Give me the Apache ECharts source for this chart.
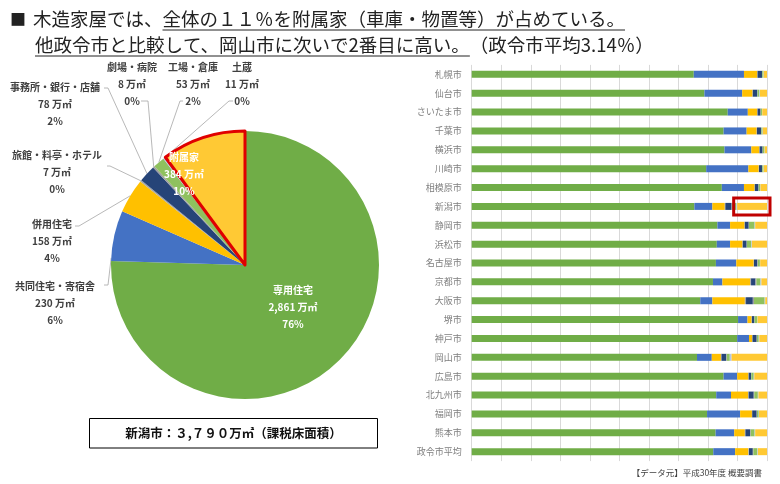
<!DOCTYPE html>
<html><head><meta charset="utf-8">
<script src="https://cdn.jsdelivr.net/npm/echarts@6/dist/echarts.min.js"></script>
<style>html,body{margin:0;padding:0;background:#fff}#c{width:780px;height:484px}</style>
</head><body><div id="c"></div>
<script>
// ---- data ----
const pieNames = ['専用住宅','共同住宅・寄宿舎','併用住宅','旅館・料亭・ホテル','事務所・銀行・店舗','劇場・病院','工場・倉庫','土蔵','附属家'];
const pieValues = [2861, 230, 158, 7, 78, 8, 53, 11, 384];
const piePercents = [76, 6, 4, 0, 2, 0, 2, 0, 10];

const cities = ['札幌市','仙台市','さいたま市','千葉市','横浜市','川崎市','相模原市','新潟市','静岡市','浜松市','名古屋市','京都市','大阪市','堺市','神戸市','岡山市','広島市','北九州市','福岡市','熊本市','政令市平均'];
const senyo    = [75.2,78.8,86.7,85.3,85.6,79.4,84.7,75.4,83.2,83.0,82.7,81.7,77.4,90.2,89.9,76.3,85.3,82.8,79.7,82.6,81.8];
const kyodo    = [17.0,12.8, 6.8, 7.8, 9.1,14.3, 7.5, 6.1, 4.3, 4.5, 6.9, 3.2, 4.1, 3.2, 4.0, 5.0, 4.6, 5.0,11.2, 6.3, 7.4];
const heiyo    = [ 4.5, 3.5, 3.2, 3.4, 2.7, 3.5, 3.6, 4.2, 4.9, 4.2, 5.9, 9.4,11.0, 1.4, 1.1, 3.1, 3.8, 5.8, 4.0, 3.6, 4.5];
const ryokan   = [ 0.1, 0.1, 0.1, 0.1, 0.1, 0.1, 0.1, 0.2, 0.1, 0.1, 0.1, 0.3, 0.4, 0.1, 0.1, 0.2, 0.1, 0.2, 0.1, 0.2, 0.2];
const jimusho  = [ 1.5, 1.5, 1.0, 1.4, 1.0, 1.0, 1.2, 2.1, 1.3, 1.3, 1.1, 1.5, 2.3, 0.8, 1.4, 1.6, 0.8, 1.7, 1.5, 1.6, 1.3];
const gekijo   = [ 0.1, 0.1, 0.1, 0.1, 0.1, 0.1, 0.1, 0.2, 0.1, 0.1, 0.2, 0.3, 0.4, 0.1, 0.1, 0.2, 0.1, 0.2, 0.1, 0.2, 0.2];
const kojo     = [ 0.4, 0.6, 0.4, 0.4, 0.5, 0.4, 0.5, 1.4, 1.9, 1.5, 0.7, 1.4, 3.6, 0.9, 0.6, 1.0, 0.8, 1.2, 0.6, 1.3, 1.3];
const dozo     = [ 0.1, 0.2, 0.1, 0.1, 0.1, 0.1, 0.1, 0.3, 0.2, 0.2, 0.1, 0.3, 0.2, 0.1, 0.2, 0.6, 0.2, 0.2, 0.1, 0.2, 0.2];
const fuzokuka = [ 1.1, 2.4, 1.6, 1.4, 0.8, 1.1, 2.2,10.1, 4.0, 5.1, 2.3, 1.9, 0.6, 3.2, 2.6,12.0, 4.3, 2.9, 2.7, 4.0, 3.1];
const barSeriesData = [senyo, kyodo, heiyo, ryokan, jimusho, gekijo, kojo, dozo, fuzokuka];

const titleLine1 = ['■', '木造家屋では、', '全体の１１％を附属家（車庫・物置等）が占めている。'];
const titleLine2 = ['他政令市と比較して、岡山市に次いで2番目に高い。', '（政令市平均3.14％）'];
const boxText = '新潟市：３,７９０万㎡（課税床面積）';
const sourceText = '【データ元】平成30年度 概要調書';
const highlightCity = '新潟市';

// ---- styles / layout ----
const colors = ['#70AD47','#4472C4','#FFC000','#A5A5A5','#264478','#9E9E9E','#8FC15E','#B4C7E7','#FFC934'];
const FF = "'Noto Sans CJK JP', sans-serif";
const PIE_C = [245, 265], PIE_R = 134;
const labelPos = {
  '専用住宅': {x:293, y:307},
  '共同住宅・寄宿舎': {x:55, y:303, end:[104,285], elbow:[108,285], frac:0.06},
  '併用住宅': {x:52, y:241, end:[75,226], elbow:[79,226], frac:0.5},
  '旅館・料亭・ホテル': {x:57, y:172, end:[107,166], elbow:[110,166], frac:0.5},
  '事務所・銀行・店舗': {x:55, y:104, end:[104,88], elbow:[108,88], frac:0.5},
  '劇場・病院': {x:132, y:84, end:[141,101], elbow:[148,101], frac:0.5},
  '工場・倉庫': {x:193, y:84, end:[183,101], elbow:[180,101], frac:0.5},
  '土蔵': {x:242, y:84, end:[233,101], elbow:[229,101], frac:0.5},
  '附属家': {x:184, y:174}
};
const insideNames = ['専用住宅','附属家'];

const total = pieValues.reduce((a,b)=>a+b,0);
function anchor(i, frac){
  let cum = 0; for (let k=0;k<i;k++) cum += pieValues[k];
  const deg = 360*(cum + frac*pieValues[i])/total * Math.PI/180;
  return [PIE_C[0] + PIE_R*Math.sin(deg), PIE_C[1] - PIE_R*Math.cos(deg)];
}

const mctx = document.createElement('canvas').getContext('2d');
function tw(t, font){ mctx.font = font; return mctx.measureText(t).width; }

const chart = echarts.init(document.getElementById('c'), null, {renderer:'canvas'});

const pieData = pieNames.map((n,i)=>{
  const inside = insideNames.indexOf(n) >= 0;
  const d = {name:n, value:pieValues[i], itemStyle:{color:colors[i]}};
  if (n === '附属家') { d.itemStyle.borderColor = '#E00000'; d.itemStyle.borderWidth = 3; }
  d.label = inside ? {position:'inside', color:'#FFFFFF'} : {position:'outside', color:'#404040'};
  d.labelLine = {show: !inside};
  return d;
});

// title graphics
const TF = "18.5px " + FF;
const g = [];
let x = 10;
g.push({type:'text', x:0, y:0, style:{text:titleLine1[0], x:10, y:19, font:"16px "+FF, fill:'#222', verticalAlign:'middle', textVerticalAlign:'middle'}});
x = 33;
g.push({type:'text', style:{text:titleLine1[1], x:x, y:19, font:TF, fill:'#222', verticalAlign:'middle', textVerticalAlign:'middle'}});
x += tw(titleLine1[1], TF);
const w13 = tw(titleLine1[2], TF);
g.push({type:'text', style:{text:titleLine1[2], x:x, y:19, font:TF, fill:'#222', verticalAlign:'middle', textVerticalAlign:'middle'}});
g.push({type:'line', shape:{x1:x, y1:30, x2:x+w13, y2:30}, style:{stroke:'#222', lineWidth:1}});
x = 35;
const w21 = tw(titleLine2[0], TF);
g.push({type:'text', style:{text:titleLine2[0], x:x, y:45, font:TF, fill:'#222', verticalAlign:'middle', textVerticalAlign:'middle'}});
g.push({type:'line', shape:{x1:x, y1:56, x2:x+w21, y2:56}, style:{stroke:'#222', lineWidth:1}});
g.push({type:'text', style:{text:titleLine2[1], x:x+w21, y:45, font:TF, fill:'#222', verticalAlign:'middle', textVerticalAlign:'middle'}});
// box
g.push({type:'rect', shape:{x:89.5, y:418.5, width:288, height:29.5}, style:{fill:'#fff', stroke:'#000', lineWidth:1}});
g.push({type:'text', style:{text:boxText, x:233.5, y:433.5, font:"bold 12.5px "+FF, fill:'#111', align:'center', textAlign:'center', verticalAlign:'middle', textVerticalAlign:'middle'}});
// source
g.push({type:'text', style:{text:sourceText, x:762, y:473, font:"8.5px "+FF, fill:'#404040', align:'right', textAlign:'right', verticalAlign:'middle', textVerticalAlign:'middle'}});

const option = {
  animation:false,
  backgroundColor:'#fff',
  textStyle:{fontFamily:FF},
  grid:{left:471.7, top:64.9, width:295.3, height:396.2, containLabel:false},
  xAxis:{type:'value', min:0, max:100, interval:10, axisLabel:{show:false}, axisLine:{show:false}, axisTick:{show:false},
    splitLine:{show:true, lineStyle:{color:'#D9D9D9', width:1}}},
  yAxis:{type:'category', data:cities, inverse:true, axisLine:{show:false}, axisTick:{show:false},
    axisLabel:{color:'#7F7F7F', fontSize:9, margin:10, fontFamily:FF}},
  series: barSeriesData.map((arr,i)=>({
    type:'bar', name:pieNames[i], stack:'total', data:arr, barWidth:7,
    itemStyle:{color:colors[i]}, silent:true, emphasis:{disabled:true}
  })).concat([{
    type:'pie', center:PIE_C, radius:PIE_R, startAngle:90, clockwise:true, avoidLabelOverlap:false,
    silent:true, emphasis:{disabled:true},
    data:pieData,
    label:{show:true, overflow:'none', fontSize:10, fontWeight:'bold', fontFamily:FF, lineHeight:17,
      formatter:p=>p.name + '\n' + p.value.toLocaleString('en-US') + ' 万㎡\n' + piePercents[p.dataIndex] + '%'},
    labelLine:{show:true, length:10, length2:10, lineStyle:{color:'#A6A6A6', width:0.8}},
    labelLayout:function(p){
      const L = labelPos[pieNames[p.dataIndex]];
      const r = {x:L.x, y:L.y, align:'center', verticalAlign:'middle'};
      if (L.end) r.labelLinePoints = [anchor(p.dataIndex, L.frac), L.elbow, L.end];
      return r;
    }
  }]),
  graphic: g
};
chart.setOption(option);

// highlight box around the 附属家 segment of the highlighted city
const hi = cities.indexOf(highlightCity);
let base = 0; for (let k=0;k<barSeriesData.length-1;k++) base += barSeriesData[k][hi];
const endV = base + fuzokuka[hi];
const p0 = chart.convertToPixel({xAxisIndex:0, yAxisIndex:0}, [base, hi]);
const p1 = chart.convertToPixel({xAxisIndex:0, yAxisIndex:0}, [endV, hi]);
g.push({type:'rect', shape:{x:p0[0]-3.5, y:p0[1]-8.5, width:(p1[0]-p0[0])+6.5, height:17}, style:{fill:'none', stroke:'#C00000', lineWidth:3}, z:100});
chart.setOption({graphic:g});
</script></body></html>
